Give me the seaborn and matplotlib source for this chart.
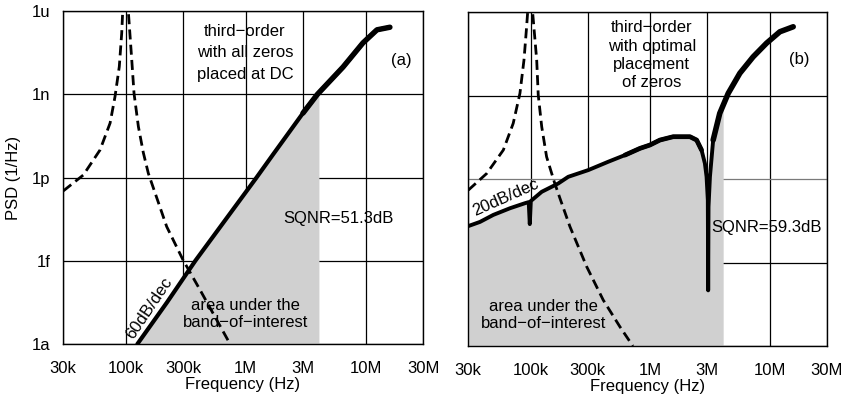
import numpy as np
import pandas as pd
import matplotlib
matplotlib.use("Agg")
import matplotlib.pyplot as plt
import seaborn as sns

# ---------------- (a) third-order, all zeros placed at DC ----------------
freq_a = [125e3, 221e3, 380e3, 1.23e6, 1.69e6, 3.0e6, 3.96e6,
          6.46e6, 9.48e6, 12.4e6, 15.9e6]
psd_a = [1.0e-18, 3.2e-17, 1.0e-15, 1.0e-12, 6.8e-12, 2.1e-10, 1.0e-9,
         9.5e-9, 7.1e-8, 2.1e-7, 2.6e-7]

# signal transfer (dashed), below and above the 100 kHz peak
stf_lo_freq_a = [30.2e3, 44.3e3, 61.0e3, 74.0e3, 81.3e3, 88.3e3, 92.5e3, 95.5e3]
stf_lo_psd_a = [3.3e-13, 1.23e-12, 9.8e-12, 9.1e-11, 8.1e-10, 9.8e-9, 1.58e-7, 3.2e-6]
stf_hi_freq_a = [103e3, 112.2e3, 117.2e3, 127.4e3, 140e3, 154.2e3, 219.3e3,
                 300e3, 416e3, 740e3]
stf_hi_psd_a = [3.2e-6, 1.7e-8, 1.07e-9, 6.8e-11, 7.9e-12, 1.41e-12, 1.7e-14,
                1.07e-15, 8.9e-17, 1e-18]

# ---------------- (b) third-order, optimal placement of zeros ----------------
freq_b = [30.2e3, 37.8e3, 48.8e3, 67.3e3, 89.7e3, 96.5e3, 98.5e3, 100.5e3,
          123.9e3, 170.2e3, 206.5e3, 303.4e3, 445.7e3, 615.2e3, 820.4e3,
          993e3, 1.205e6, 1.556e6, 2.148e6, 2.443e6, 2.685e6, 2.864e6,
          2.958e6, 3.03e6, 3.05e6, 3.07e6, 3.155e6, 3.357e6, 3.811e6,
          4.487e6, 5.61e6, 7.244e6, 9.376e6, 12.11e6, 15.67e6]
psd_b = [2.04e-14, 2.88e-14, 5.13e-14, 8.91e-14, 1.35e-13, 1.48e-13, 2.4e-14,
         1.62e-13, 3.47e-13, 6.9e-13, 1.2e-12, 2.09e-12, 4.17e-12, 7.24e-12,
         1.26e-11, 1.66e-11, 2.51e-11, 3.31e-11, 3.31e-11, 2.51e-11, 1.1e-11,
         3.63e-12, 1.2e-12, 1.74e-13, 1.0e-16, 1.0e-13, 1.2e-12, 2.51e-11,
         2.29e-10, 1.2e-9, 6.31e-9, 2.45e-8, 7.59e-8, 1.95e-7, 2.95e-7]

stf_lo_freq_b = [30.2e3, 43.0e3, 59.2e3, 71.6e3, 81.5e3, 88.1e3, 92.7e3, 96.4e3]
stf_lo_psd_b = [4.0e-13, 1.58e-12, 1.1e-11, 1.0e-10, 1.2e-9, 1.9e-8, 3.0e-7, 3.2e-6]
stf_hi_freq_b = [101.6e3, 112.5e3, 115.9e3, 123.9e3, 136.1e3, 157.8e3, 176.2e3,
                 213.3e3, 294.4e3, 404.6e3, 558.5e3, 716e3]
stf_hi_psd_b = [3.2e-6, 1.9e-8, 1.05e-9, 7.6e-11, 6.3e-12, 7.9e-13, 2.0e-13,
                1.95e-14, 7.1e-16, 4.5e-17, 4.9e-18, 1e-18]

band_edge = 4.07e6  # upper edge of the band of interest

x_ticks = [30e3, 100e3, 300e3, 1e6, 3e6, 10e6, 30e6]
x_tick_labels = ["30k", "100k", "300k", "1M", "3M", "10M", "30M"]
y_ticks = [1e-18, 1e-15, 1e-12, 1e-9, 1e-6]
y_tick_labels = ["1a", "1f", "1p", "1n", "1u"]

sns.set_style("white")
plt.rcParams["font.family"] = ["Liberation Sans", "DejaVu Sans"]
plt.rcParams["font.size"] = 12
for key in ("text.color", "axes.labelcolor", "xtick.color", "ytick.color"):
    plt.rcParams[key] = "black"

fig = plt.figure(figsize=(8.46, 4.03), dpi=100)
ax_a = fig.add_axes([0.0745, 0.1464, 0.4255, 0.8263])
ax_b = fig.add_axes([0.5532, 0.1414, 0.4243, 0.8288])

FILL = "#d0d0d0"
DASH = (0, (3.6, 1.9))


def shade_band(ax, f, p):
    f = np.asarray(f)
    p = np.asarray(p)
    keep = f < band_edge
    edge = 10 ** np.interp(np.log10(band_edge), np.log10(f), np.log10(p))
    fx = np.append(f[keep], band_edge)
    px = np.append(p[keep], edge)
    ax.fill_between(fx, px, 1e-18, color=FILL, lw=0, zorder=1)


def style_axes(ax, show_y):
    ax.set_xscale("log")
    ax.set_yscale("log")
    ax.set_xlim(30e3, 30e6)
    ax.set_ylim(1e-18, 1e-6)
    ax.set_xticks(x_ticks)
    ax.set_xticklabels(x_tick_labels)
    ax.set_yticks(y_ticks)
    ax.set_yticklabels(y_tick_labels if show_y else [])
    ax.minorticks_off()
    ax.tick_params(length=0, labelsize=12, colors="black")
    ax.tick_params(axis="x", pad=12.5)
    ax.tick_params(axis="y", pad=9)
    ax.grid(True, which="major", color="black", lw=0.9)
    for s in ax.spines.values():
        s.set_color("black")
        s.set_linewidth(1.0)
    ax.set_xlabel("Frequency (Hz)", fontsize=12)
    ax.xaxis.set_label_coords(0.5, -0.1)


def curve(ax, f, p, lw, ls="-"):
    sns.lineplot(x=f, y=p, ax=ax, color="black", linewidth=lw, linestyle=ls,
                 estimator=None, sort=False, legend=False, zorder=3)


# ---------- panel (a) ----------
style_axes(ax_a, True)
shade_band(ax_a, freq_a, psd_a)
curve(ax_a, stf_lo_freq_a, stf_lo_psd_a, 2.0, DASH)
curve(ax_a, stf_hi_freq_a, stf_hi_psd_a, 2.0, DASH)
curve(ax_a, freq_a, psd_a, 3.0)
fa = np.asarray(freq_a)
curve(ax_a, fa[fa >= 3e6], np.asarray(psd_a)[fa >= 3e6], 3.9)
ax_a.set_ylabel("PSD (1/Hz)", fontsize=12)
ax_a.yaxis.set_label_coords(-0.118, 0.5)

ax_a.text(986e3, 3.1e-8, "third\u2212order\nwith all zeros\nplaced at DC",
          ha="center", va="center", multialignment="center", linespacing=1.55,
          zorder=5)
ax_a.text(19.9e6, 1.7e-8, "(a)", ha="center", va="center", zorder=5)
ax_a.text(2.04e6, 3.2e-14, "SQNR=51.3dB", ha="left", va="center", zorder=5)
ax_a.text(156e3, 2.0e-17, "60dB/dec", ha="center", va="center", rotation=56,
          rotation_mode="anchor", zorder=5)
ax_a.text(1.0e6, 1.2e-17, "area under the\nband\u2212of\u2212interest",
          ha="center", va="center", multialignment="center", linespacing=1.2,
          zorder=5)

# ---------- panel (b) ----------
style_axes(ax_b, False)
ax_b.yaxis.get_gridlines()[2].set_color("#7a7a7a")
shade_band(ax_b, freq_b, psd_b)
curve(ax_b, stf_lo_freq_b, stf_lo_psd_b, 2.0, DASH)
curve(ax_b, stf_hi_freq_b, stf_hi_psd_b, 2.0, DASH)
curve(ax_b, freq_b, psd_b, 2.8)
fb = np.asarray(freq_b)
pb = np.asarray(psd_b)
up = fb > 3.2e6
curve(ax_b, fb[up], pb[up], 4.0)
mid = (fb > 600e3) & (fb < 2.7e6)
curve(ax_b, fb[mid], pb[mid], 3.4)

ax_b.text(1.03e6, 2.8e-8, "third\u2212order\nwith optimal\nplacement\nof zeros",
          ha="center", va="center", multialignment="center", linespacing=1.27,
          zorder=5)
ax_b.text(17.5e6, 1.9e-8, "(b)", ha="center", va="center", zorder=5)
ax_b.text(3.21e6, 1.74e-14, "SQNR=59.3dB", ha="left", va="center", zorder=5)
ax_b.text(62e3, 2.1e-13, "20dB/dec", ha="center", va="center", rotation=24,
          rotation_mode="anchor", zorder=5)
ax_b.text(129e3, 1.3e-17, "area under the\nband\u2212of\u2212interest",
          ha="center", va="center", multialignment="center", linespacing=1.2,
          zorder=5)

fig.savefig("out.png", dpi=100)
